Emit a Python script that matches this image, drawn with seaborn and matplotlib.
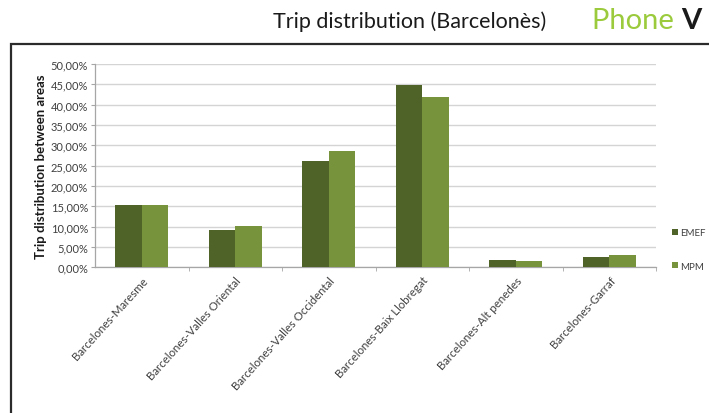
import matplotlib
matplotlib.use("Agg")
import matplotlib.pyplot as plt
from matplotlib.patches import Rectangle
from matplotlib.ticker import FixedLocator, FuncFormatter
import seaborn as sns
import pandas as pd

# Trip share between Barcelonès and neighbouring areas (percent)
categories = [
    "Barcelones-Maresme",
    "Barcelones-Valles Oriental",
    "Barcelones-Valles Occidental",
    "Barcelones-Baix Llobregat",
    "Barcelones-Alt penedes",
    "Barcelones-Garraf",
]
emef = [15.2, 9.2, 26.2, 44.9, 1.9, 2.5]
mpm = [15.2, 10.1, 28.6, 41.9, 1.5, 3.1]
series_names = ["EMEF", "MPM"]
y_ticks = [0, 5, 10, 15, 20, 25, 30, 35, 40, 45, 50]

df = pd.DataFrame({
    "area": categories * 2,
    "share": emef + mpm,
    "source": [series_names[0]] * len(categories) + [series_names[1]] * len(categories),
})

sns.set_style("white")
plt.rcParams["font.family"] = ["Lato", "DejaVu Sans"]

W, H = 709, 414
fig = plt.figure(figsize=(W / 100, H / 100), dpi=100)

# slide frame around the chart
fig.patches.append(Rectangle((11 / W, -0.1), 1.2, 1 - 45 / H + 0.1,
                             transform=fig.transFigure, fill=False,
                             edgecolor="#2b2b2b", linewidth=1.6, zorder=0))

# slide heading
fig.text(410 / W, 1 - 22 / H, "Trip distribution (Barcelonès)", ha="center",
         va="center", fontsize=15.5, color="#1a1a1a")
t = fig.text(592 / W, 1 - 21 / H, "Phone ", ha="left", va="center",
             fontsize=21, color="#9BCB3C")
fig.canvas.draw()
bb = t.get_window_extent()
fig.text(bb.x1 / W, 1 - 21 / H, "V", ha="left", va="center",
         fontsize=21, color="#1a1a1a", fontweight="bold")

ax = fig.add_axes([95 / W, 1 - 268.3 / H, (656 - 95) / W, (268.3 - 65) / H])
palette = {"EMEF": "#4F6228", "MPM": "#77933C"}
sns.barplot(data=df, x="area", y="share", hue="source", palette=palette,
            width=0.57, gap=0, saturation=1, linewidth=0, ax=ax,
            legend=True, zorder=3)

ax.set_ylim(0, 50)
ax.set_xlim(-0.5, len(categories) - 0.5)
ax.yaxis.set_major_locator(FixedLocator(y_ticks))
ax.yaxis.set_major_formatter(FuncFormatter(lambda v, p: f"{v:.2f}%".replace(".", ",")))
ax.grid(axis="y", color="#d4d4d4", linewidth=1, zorder=0)
ax.set_axisbelow(True)
for s in ["top", "right"]:
    ax.spines[s].set_visible(False)
for s in ["left", "bottom"]:
    ax.spines[s].set_color("#a6a6a6")
    ax.spines[s].set_linewidth(0.9)

ax.tick_params(axis="y", length=3, color="#a6a6a6", labelsize=8,
               labelcolor="#404040", pad=2, left=True)
ax.set_xticks(range(len(categories)))
ax.set_xticklabels(categories, rotation=48, ha="right", rotation_mode="anchor",
                   fontsize=8.3, color="#404040")
ax.tick_params(axis="x", which="major", length=0, pad=5)
ax.xaxis.set_minor_locator(FixedLocator([i + 0.5 for i in range(len(categories))]))
ax.tick_params(axis="x", which="minor", length=3, color="#a6a6a6", bottom=True)

ax.set_xlabel("")
ax.set_ylabel("Trip distribution between areas", fontsize=9.5, fontweight="bold",
              color="#1a1a1a", labelpad=3)

ax.legend_.remove()
handles, labels = ax.get_legend_handles_labels()
fig.legend(handles, labels, loc="center left",
           bbox_to_anchor=(663 / W, 1 - 250.5 / H), frameon=False,
           fontsize=7, handlelength=0.6, handleheight=0.6,
           handletextpad=0.3, labelspacing=2.5, labelcolor="#404040")

fig.savefig("out.png", dpi=100)
